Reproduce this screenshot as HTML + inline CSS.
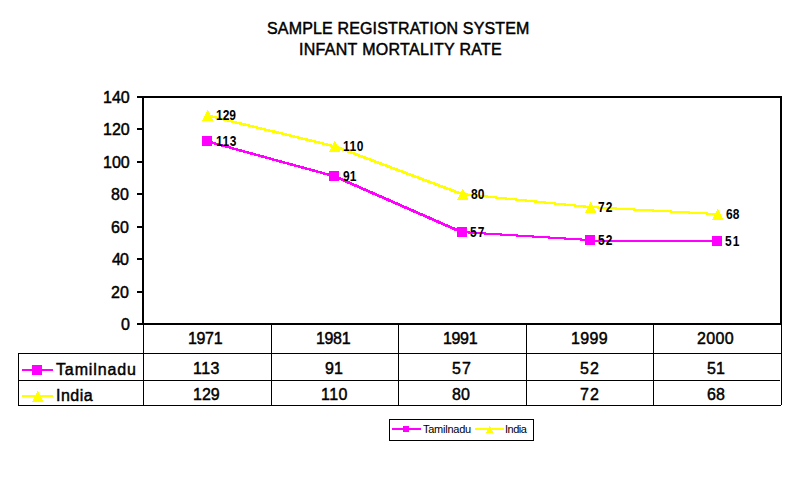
<!DOCTYPE html>
<html><head><meta charset="utf-8"><title>Sample Registration System - Infant Mortality Rate</title>
<style>
html,body{margin:0;padding:0;background:#fff;}
body{width:796px;height:500px;overflow:hidden;}
svg{display:block;font-family:'Liberation Sans',Arial,sans-serif;}
</style></head><body>
<svg width="796" height="500" viewBox="0 0 796 500">
<rect x="0" y="0" width="796" height="500" fill="#fff"/>
<!-- chart title -->
<text x="267.00" y="34.00" font-size="16" stroke="#000" stroke-width="0.45" textLength="262.42" lengthAdjust="spacing">SAMPLE REGISTRATION SYSTEM</text>
<text x="299.00" y="55.00" font-size="16" stroke="#000" stroke-width="0.45" textLength="202.78" lengthAdjust="spacing">INFANT MORTALITY RATE</text>
<!-- plot area frame, axis, ticks -->
<g shape-rendering="crispEdges" fill="#000">
<rect x="142" y="96" width="640" height="2"/>
<rect x="142" y="96" width="2" height="229"/>
<rect x="780" y="96" width="2" height="229"/>
<rect x="137" y="323" width="645" height="2"/>
<rect x="137" y="96" width="6" height="2"/>
<rect x="137" y="128" width="6" height="2"/>
<rect x="137" y="161" width="6" height="2"/>
<rect x="137" y="193" width="6" height="2"/>
<rect x="137" y="226" width="6" height="2"/>
<rect x="137" y="258" width="6" height="2"/>
<rect x="137" y="291" width="6" height="2"/>
<rect x="137" y="323" width="6" height="2"/>
<!-- data table grid -->
<rect x="18" y="353" width="764" height="1"/>
<rect x="18" y="380" width="762" height="1"/>
<rect x="18" y="405" width="763" height="1"/>
<rect x="18" y="353" width="1" height="53"/>
<rect x="143" y="325" width="1" height="81"/>
<rect x="271" y="325" width="1" height="81"/>
<rect x="398" y="325" width="1" height="81"/>
<rect x="526" y="325" width="1" height="81"/>
<rect x="653" y="325" width="1" height="81"/>
<rect x="781" y="325" width="1" height="80"/>
</g>
<!-- value axis labels -->
<text x="103.00" y="103.00" font-size="16" stroke="#000" stroke-width="0.45">140</text>
<text x="103.00" y="135.00" font-size="16" stroke="#000" stroke-width="0.45">120</text>
<text x="103.00" y="168.00" font-size="16" stroke="#000" stroke-width="0.45">100</text>
<text x="111.00" y="200.00" font-size="16" stroke="#000" stroke-width="0.45">80</text>
<text x="111.00" y="233.00" font-size="16" stroke="#000" stroke-width="0.45">60</text>
<text x="112.00" y="265.00" font-size="16" stroke="#000" stroke-width="0.45" textLength="16.80" lengthAdjust="spacing">40</text>
<text x="111.00" y="298.00" font-size="16" stroke="#000" stroke-width="0.45">20</text>
<text x="121.00" y="330.00" font-size="16" stroke="#000" stroke-width="0.45">0</text>
<!-- data table text -->
<text x="188.00" y="344.00" font-size="16" stroke="#000" stroke-width="0.45" textLength="34.59" lengthAdjust="spacing">1971</text>
<text x="316.00" y="344.00" font-size="16" stroke="#000" stroke-width="0.45" textLength="34.59" lengthAdjust="spacing">1981</text>
<text x="443.00" y="344.00" font-size="16" stroke="#000" stroke-width="0.45" textLength="34.59" lengthAdjust="spacing">1991</text>
<text x="571.00" y="344.00" font-size="16" stroke="#000" stroke-width="0.45" textLength="36.59" lengthAdjust="spacing">1999</text>
<text x="697.00" y="344.00" font-size="16" stroke="#000" stroke-width="0.45" textLength="36.59" lengthAdjust="spacing">2000</text>
<text x="193.00" y="374.00" font-size="16" stroke="#000" stroke-width="0.45" textLength="26.52" lengthAdjust="spacing">113</text>
<text x="325.00" y="374.00" font-size="16" stroke="#000" stroke-width="0.45">91</text>
<text x="452.00" y="374.00" font-size="16" stroke="#000" stroke-width="0.45" textLength="18.80" lengthAdjust="spacing">57</text>
<text x="580.00" y="374.00" font-size="16" stroke="#000" stroke-width="0.45" textLength="18.80" lengthAdjust="spacing">52</text>
<text x="707.00" y="374.00" font-size="16" stroke="#000" stroke-width="0.45">51</text>
<text x="193.00" y="400.00" font-size="16" stroke="#000" stroke-width="0.45">129</text>
<text x="321.00" y="400.00" font-size="16" stroke="#000" stroke-width="0.45" textLength="26.52" lengthAdjust="spacing">110</text>
<text x="452.00" y="400.00" font-size="16" stroke="#000" stroke-width="0.45">80</text>
<text x="580.00" y="400.00" font-size="16" stroke="#000" stroke-width="0.45" textLength="18.80" lengthAdjust="spacing">72</text>
<text x="707.00" y="400.00" font-size="16" stroke="#000" stroke-width="0.45">68</text>
<text x="56.00" y="375.00" font-size="16" stroke="#000" stroke-width="0.45" textLength="79.94" lengthAdjust="spacing">Tamilnadu</text>
<text x="56.00" y="401.00" font-size="16" stroke="#000" stroke-width="0.45" textLength="36.70" lengthAdjust="spacing">India</text>
<!-- data table legend keys -->
<g shape-rendering="crispEdges">
<rect x="22" y="369" width="31" height="2" fill="#f0f"/>
<rect x="32" y="365" width="10" height="10" fill="#f0f"/>
<rect x="22" y="395" width="31" height="2" fill="#ff0"/>
<g fill="#ff0"><rect x="37" y="391" width="1" height="1"/><rect x="37" y="392" width="2" height="1"/><rect x="36" y="393" width="3" height="1"/><rect x="36" y="394" width="4" height="1"/><rect x="35" y="395" width="5" height="1"/><rect x="35" y="396" width="6" height="1"/><rect x="34" y="397" width="7" height="1"/><rect x="34" y="398" width="8" height="1"/><rect x="33" y="399" width="9" height="1"/><rect x="33" y="400" width="10" height="1"/><rect x="32" y="401" width="11" height="1"/></g>
</g>
<!-- series lines -->
<g fill="none" stroke="#ff0" stroke-width="2" shape-rendering="crispEdges">
<path d="M206,115.40L333.5,146.30 M333.5,146.30L461,194.00 M461,194.00L589,207.07 M589,207.07L716,214.04"/>
<path d="M207,115.40L334.5,146.30 M334.5,146.30L462,194.00 M462,194.00L590,207.07 M590,207.07L717,214.04"/>
<path d="M208,115.40L335.5,146.30 M335.5,146.30L463,194.00 M463,194.00L591,207.07 M591,207.07L718,214.04"/>
</g>
<g fill="none" stroke="#f0f" stroke-width="2" shape-rendering="crispEdges">
<path d="M206,141.30L333.5,176.30 M333.5,176.30L461,232.30 M461,232.06L589,240.06 M589,241.00L716,241.00"/>
<path d="M207,141.30L334.5,176.30 M334.5,176.30L462,232.30 M462,232.06L590,240.06 M590,241.00L717,241.00"/>
<path d="M208,141.30L335.5,176.30 M335.5,176.30L463,232.30 M463,232.06L591,240.06 M591,241.00L718,241.00"/>
</g>
<!-- markers -->
<g shape-rendering="crispEdges">
<g fill="#ff0"><rect x="207" y="110" width="1" height="1"/><rect x="207" y="111" width="2" height="1"/><rect x="206" y="112" width="3" height="1"/><rect x="206" y="113" width="4" height="1"/><rect x="205" y="114" width="5" height="1"/><rect x="205" y="115" width="6" height="1"/><rect x="204" y="116" width="7" height="1"/><rect x="204" y="117" width="8" height="1"/><rect x="203" y="118" width="9" height="1"/><rect x="203" y="119" width="10" height="1"/><rect x="202" y="120" width="11" height="1"/></g>
<g fill="#ff0"><rect x="334" y="141" width="1" height="1"/><rect x="334" y="142" width="2" height="1"/><rect x="333" y="143" width="3" height="1"/><rect x="333" y="144" width="4" height="1"/><rect x="332" y="145" width="5" height="1"/><rect x="332" y="146" width="6" height="1"/><rect x="331" y="147" width="7" height="1"/><rect x="331" y="148" width="8" height="1"/><rect x="330" y="149" width="9" height="1"/><rect x="330" y="150" width="10" height="1"/><rect x="329" y="151" width="11" height="1"/></g>
<g fill="#ff0"><rect x="462" y="189" width="1" height="1"/><rect x="462" y="190" width="2" height="1"/><rect x="461" y="191" width="3" height="1"/><rect x="461" y="192" width="4" height="1"/><rect x="460" y="193" width="5" height="1"/><rect x="460" y="194" width="6" height="1"/><rect x="459" y="195" width="7" height="1"/><rect x="459" y="196" width="8" height="1"/><rect x="458" y="197" width="9" height="1"/><rect x="458" y="198" width="10" height="1"/><rect x="457" y="199" width="11" height="1"/></g>
<g fill="#ff0"><rect x="590" y="202" width="1" height="1"/><rect x="590" y="203" width="2" height="1"/><rect x="589" y="204" width="3" height="1"/><rect x="589" y="205" width="4" height="1"/><rect x="588" y="206" width="5" height="1"/><rect x="588" y="207" width="6" height="1"/><rect x="587" y="208" width="7" height="1"/><rect x="587" y="209" width="8" height="1"/><rect x="586" y="210" width="9" height="1"/><rect x="586" y="211" width="10" height="1"/><rect x="585" y="212" width="11" height="1"/></g>
<g fill="#ff0"><rect x="717" y="209" width="1" height="1"/><rect x="717" y="210" width="2" height="1"/><rect x="716" y="211" width="3" height="1"/><rect x="716" y="212" width="4" height="1"/><rect x="715" y="213" width="5" height="1"/><rect x="715" y="214" width="6" height="1"/><rect x="714" y="215" width="7" height="1"/><rect x="714" y="216" width="8" height="1"/><rect x="713" y="217" width="9" height="1"/><rect x="713" y="218" width="10" height="1"/><rect x="712" y="219" width="11" height="1"/></g>
<rect x="202" y="136" width="10" height="10" fill="#f0f"/>
<rect x="329" y="171" width="10" height="10" fill="#f0f"/>
<rect x="457" y="227" width="10" height="10" fill="#f0f"/>
<rect x="585" y="235" width="10" height="10" fill="#f0f"/>
<rect x="712" y="236" width="10" height="10" fill="#f0f"/>
</g>
<!-- data labels -->
<text transform="translate(216.00,120.00) scale(1,1.18)" font-size="12" font-weight="bold">129</text>
<text transform="translate(343.00,151.00) scale(1,1.18)" font-size="12" font-weight="bold" textLength="20.34" lengthAdjust="spacing">110</text>
<text transform="translate(471.00,199.00) scale(1,1.18)" font-size="12" font-weight="bold">80</text>
<text transform="translate(598.00,212.00) scale(1,1.18)" font-size="12" font-weight="bold" textLength="14.34" lengthAdjust="spacing">72</text>
<text transform="translate(726.00,219.00) scale(1,1.18)" font-size="12" font-weight="bold">68</text>
<text transform="translate(216.00,146.00) scale(1,1.18)" font-size="12" font-weight="bold" textLength="20.34" lengthAdjust="spacing">113</text>
<text transform="translate(343.00,181.00) scale(1,1.18)" font-size="12" font-weight="bold">91</text>
<text transform="translate(470.00,237.00) scale(1,1.18)" font-size="12" font-weight="bold" textLength="14.34" lengthAdjust="spacing">57</text>
<text transform="translate(598.00,245.00) scale(1,1.18)" font-size="12" font-weight="bold" textLength="14.34" lengthAdjust="spacing">52</text>
<text transform="translate(725.00,246.00) scale(1,1.18)" font-size="12" font-weight="bold" textLength="14.34" lengthAdjust="spacing">51</text>
<!-- legend -->
<g shape-rendering="crispEdges">
<rect x="389.5" y="419.5" width="144" height="21" fill="none" stroke="#000" stroke-width="1"/>
<rect x="392" y="428" width="29" height="2" fill="#f0f"/>
<rect x="403" y="426" width="6" height="6" fill="#f0f"/>
<rect x="475" y="428" width="29" height="2" fill="#ff0"/>
<g fill="#ff0"><rect x="489" y="426" width="1" height="1"/><rect x="489" y="427" width="2" height="1"/><rect x="488" y="428" width="3" height="1"/><rect x="488" y="429" width="4" height="1"/><rect x="487" y="430" width="5" height="1"/><rect x="487" y="431" width="6" height="1"/><rect x="486" y="432" width="7" height="1"/></g>
</g>
<text x="423.00" y="433.00" font-size="11" textLength="48.14" lengthAdjust="spacing">Tamilnadu</text>
<text x="505.00" y="433.00" font-size="11" textLength="21.86" lengthAdjust="spacing">India</text>
</svg></body></html>
